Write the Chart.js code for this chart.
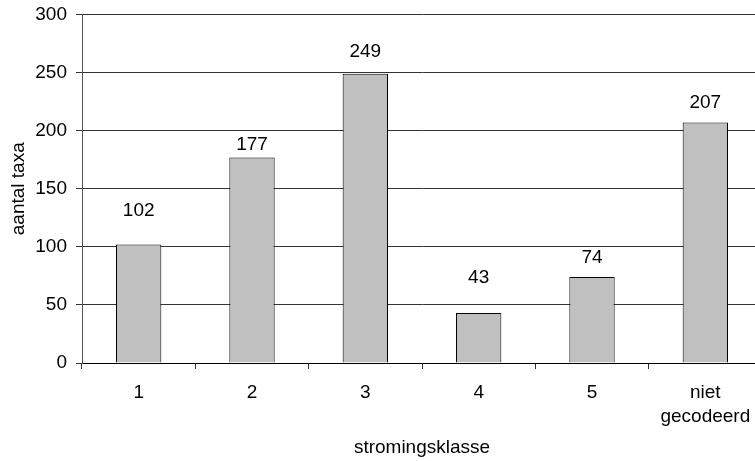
<!DOCTYPE html>
<html>
<head>
<meta charset="utf-8">
<script src="https://cdn.jsdelivr.net/npm/chart.js@4/dist/chart.umd.min.js"></script>
<style>
  html, body { margin: 0; padding: 0; background: #fff; overflow: hidden; }
  #wrap { width: 762px; height: 461px; position: relative; }
</style>
</head>
<body>
<div id="wrap"><canvas id="c"></canvas></div>
<script>
const categories = ['1', '2', '3', '4', '5', ['niet', 'gecodeerd']];
const aantalTaxa = [102, 177, 249, 43, 74, 207];
const yTicks = [0, 50, 100, 150, 200, 250, 300];

const FONT = "'Liberation Sans', Arial, sans-serif";
const FSIZE = 19;

const valueLabels = {
  id: 'valueLabels',
  afterDatasetsDraw(chart, args, opts) {
    const ctx = chart.ctx;
    const meta = chart.getDatasetMeta(0);
    ctx.save();
    ctx.font = FSIZE + 'px ' + FONT;
    ctx.fillStyle = '#000';
    ctx.textAlign = 'center';
    ctx.textBaseline = 'middle';
    meta.data.forEach((bar, i) => {
      ctx.fillText(String(chart.data.datasets[0].data[i]), bar.x, bar.y - opts.lift[i]);
    });
    ctx.restore();
  }
};

new Chart(document.getElementById('c'), {
  type: 'bar',
  data: {
    labels: categories,
    datasets: [{
      data: aantalTaxa,
      backgroundColor: '#c0c0c0',
      borderColor: '#000',
      borderWidth: 1,
      barPercentage: 0.4,
      categoryPercentage: 1.0
    }]
  },
  options: {
    responsive: true,
    maintainAspectRatio: false,
    animation: false,
    layout: { padding: { top: 14.5, right: 0, bottom: 0, left: 0 } },
    plugins: {
      legend: { display: false },
      tooltip: { enabled: false },
      valueLabels: { lift: [34, 13, 22, 35, 19, 20] }
    },
    scales: {
      x: {
        offset: true,
        grid: { display: true, drawOnChartArea: false, drawTicks: true, tickLength: 6, offset: true, color: '#333' },
        border: { display: true, color: '#000', width: 1 },
        ticks: { color: '#000', font: { family: FONT, size: FSIZE, lineHeight: 1.25 }, padding: 12, maxRotation: 0, autoSkip: false },
        title: { display: true, text: 'stromingsklasse', color: '#000', font: { family: FONT, size: FSIZE }, padding: { top: 0, bottom: 2 } },
        afterFit(scale) { scale.height = 98; scale.paddingLeft = 0; scale.paddingRight = 0; }
      },
      y: {
        min: 0,
        max: 300,
        afterBuildTicks(scale) { scale.ticks = yTicks.map(v => ({ value: v })); },
        grid: { display: true, drawOnChartArea: true, drawTicks: true, tickLength: 6, color: '#333' },
        border: { display: true, color: '#555', width: 1 },
        ticks: { color: '#000', font: { family: FONT, size: FSIZE }, padding: 9 },
        title: { display: true, text: 'aantal taxa', color: '#000', font: { family: FONT, size: FSIZE }, padding: { top: 7, bottom: 0 } },
        afterFit(scale) { scale.width = 82; scale.paddingTop = 0; scale.paddingBottom = 0; }
      }
    }
  },
  plugins: [valueLabels]
});
</script>
</body>
</html>
